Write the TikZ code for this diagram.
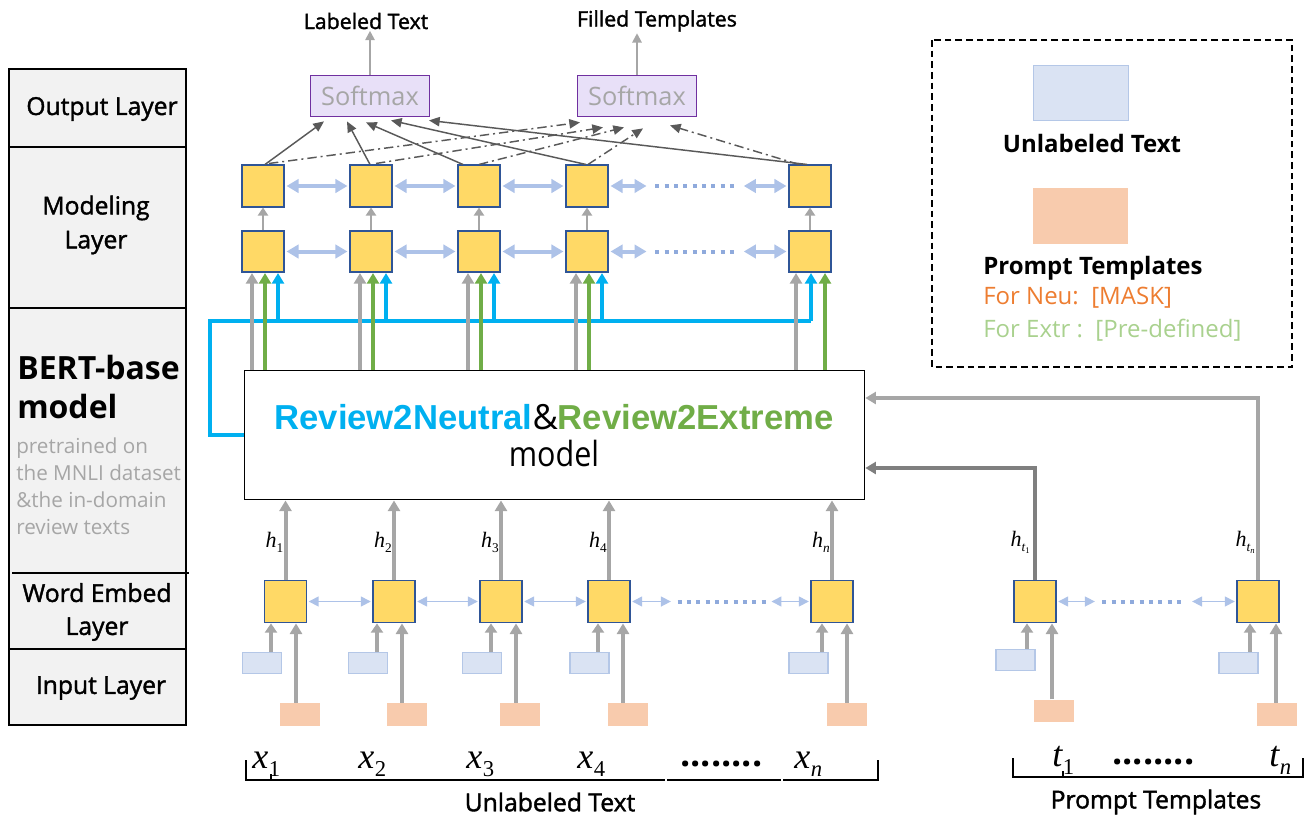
\documentclass[tikz,border=0pt]{standalone}
\usepackage{fontspec}
\setmainfont{Open Sans}
\newfontfamily\medfont{Open Sans}[FakeBold=1.6]
\newfontfamily\arialfont{Liberation Sans}
\newfontfamily\timesfont{Liberation Serif}
\usetikzlibrary{arrows.meta,calc}

\definecolor{panelgray}{HTML}{F2F2F2}
\definecolor{cellfill}{HTML}{FFD966}
\definecolor{cellline}{HTML}{2F5597}
\definecolor{linkblue}{HTML}{ADC2E8}
\definecolor{dotblue}{HTML}{8FAADC}
\definecolor{arrgray}{HTML}{A6A6A6}
\definecolor{darkarr}{HTML}{7F7F7F}
\definecolor{outgray}{HTML}{595959}
\definecolor{neutralblue}{HTML}{00B0F0}
\definecolor{extremegreen}{HTML}{70AD47}
\definecolor{softfill}{HTML}{E8E0F8}
\definecolor{softline}{HTML}{7030A0}
\definecolor{textfill}{HTML}{DAE3F3}
\definecolor{textline}{HTML}{B4C7E7}
\definecolor{promptfill}{HTML}{F8CBAD}
\definecolor{neuorange}{HTML}{ED7D31}
\definecolor{extrgreen}{HTML}{A9D18E}
\definecolor{notegray}{HTML}{A6A6A6}

% italic symbol with a lowered subscript
\newcommand\symsub[2]{{\timesfont\itshape #1}\kern0.5pt\raisebox{-6pt}{\fontsize{17}{17}\selectfont\timesfont #2}}
\newcommand\hsub[1]{{\timesfont\itshape h}\raisebox{-3.5pt}{\fontsize{10}{10}\selectfont\timesfont #1}}
\newcommand\tsub[1]{{\itshape t}\raisebox{-2pt}{\fontsize{6.5}{6.5}\selectfont\upshape #1}}

\begin{document}
\begin{tikzpicture}[x=0.75pt,y=-0.75pt,
  cell/.style={draw=cellline, fill=cellfill, line width=1.3pt, minimum width=31pt, minimum height=31pt, inner sep=0pt},
  utext/.style={draw=textline, fill=textfill, line width=1.1pt, minimum width=29pt, minimum height=15.5pt, inner sep=0pt},
  ptext/.style={fill=promptfill, minimum width=30pt, minimum height=17pt, inner sep=0pt},
  softbox/.style={draw=softline, fill=softfill, line width=1.1pt, minimum width=89pt, minimum height=31pt, inner sep=0pt, text=notegray, font=\fontsize{19}{22}\selectfont},
  layerlbl/.style={font=\medfont\fontsize{18.5}{25}\selectfont, inner sep=0pt, align=center},
  toplbl/.style={font=\medfont\fontsize{16}{19}\selectfont, inner sep=1pt},
  legbold/.style={font=\fontsize{18}{21}\selectfont\bfseries, inner sep=0pt},
  legplain/.style={font=\fontsize{18}{21}\selectfont, inner sep=0pt},
  botlbl/.style={font=\medfont\fontsize{18.5}{21}\selectfont, inner sep=0pt},
  symlbl/.style={font=\fontsize{27}{30}\selectfont, inner sep=0pt, anchor=base west},
  hlbl/.style={font=\fontsize{16.5}{18}\selectfont, inner sep=0pt, anchor=east},
  grayup/.style={draw=arrgray, line width=3pt, -{Triangle[length=8pt,width=9pt]}},
  darkup/.style={draw=darkarr, line width=3pt, -{Triangle[length=8pt,width=9pt]}},
  greenup/.style={draw=extremegreen, line width=3pt, -{Triangle[length=8pt,width=9pt]}},
  blueup/.style={draw=neutralblue, line width=3pt, -{Triangle[length=8pt,width=9pt]}},
  bluebus/.style={draw=neutralblue, line width=3pt},
  smallup/.style={draw=arrgray, line width=3pt, -{Triangle[length=7pt,width=9pt]}},
  tinyup/.style={draw=arrgray, line width=1.5pt, -{Triangle[length=6pt,width=7.5pt]}},
  thinarr/.style={draw=arrgray, line width=1.5pt, -{Triangle[length=7pt,width=7pt]}},
  thicklink/.style={draw=linkblue, line width=3pt, {Triangle[length=9pt,width=10pt]}-{Triangle[length=9pt,width=10pt]}, shorten <=1.5pt, shorten >=1.5pt},
  thinlink/.style={draw=linkblue, line width=1.1pt, {Triangle[length=7.5pt,width=7.5pt]}-{Triangle[length=7.5pt,width=7.5pt]}, shorten <=1pt, shorten >=1pt},
  dotrun/.style={draw=dotblue, line width=3pt, dash pattern=on 3pt off 4pt},
  outsolid/.style={draw=outgray, line width=1.1pt, -{Triangle[length=8pt,width=7pt]}},
  outdash/.style={outsolid, dash pattern=on 7pt off 3pt on 1.5pt off 3pt},
  bracket/.style={draw=black, line width=1.1pt}
]
\useasboundingbox (0,0) rectangle (1313,818);

% ---------- layer names on the left ----------
\filldraw[fill=panelgray, draw=black, line width=1.2pt] (9,69) rectangle (186,725);
\draw[line width=1.2pt] (9,147) -- (186,147) (9,308) -- (186,308) (12,573) -- (189,573) (9,649) -- (186,649);
\node[layerlbl] (lOut) at (102,109) {Output Layer};
\node[layerlbl, font=\medfont\fontsize{18.5}{25.5}\selectfont] (lMod) at (96,225) {Modeling\\Layer};
\node[anchor=west, inner sep=0pt, align=left, font=\fontsize{24}{29}\selectfont\bfseries] (lBert) at (17,387) {BERT-base\\model};
\node[anchor=west, inner sep=0pt, align=left, text=notegray, font=\fontsize{15.5}{20.25}\selectfont] (lNote) at (16,486) {pretrained on\\the MNLI dataset\\\&the in-domain\\review texts};
\node[layerlbl, font=\medfont\fontsize{18.5}{24.75}\selectfont] (lWord) at (97,612) {Word Embed\\Layer};
\node[layerlbl] (lIn) at (101,688) {Input Layer};

% ---------- output layer ----------
\node[softbox] (s1) at (370,96) {Softmax};
\node[softbox] (s2) at (637,96) {Softmax};
\node[toplbl] (o1) at (366,21) {Labeled Text};
\node[toplbl] (o2) at (657,21) {Filled Templates};
\draw[thinarr] (s1.north) -- (s1.north |- o1.south);
\draw[thinarr] (s2.north) -- (s2.north |- o2.south);

% ---------- modeling layer ----------
\foreach \i/\x in {1/263,2/371,3/479,4/587,5/810}{
  \node[cell] (t\i) at (\x,186) {};
  \node[cell] (b\i) at (\x,251.5) {};
  \draw[tinyup] (b\i.north) -- (t\i.south);
}
\foreach \r in {t,b}{
  \foreach \i/\j in {1/2,2/3,3/4}{
    \draw[thicklink] (\r\i.east) -- (\r\j.west);
  }
  \draw[thicklink] (\r4.east) -- ([xshift=30pt]\r4.east);
  \draw[dotrun] ([xshift=35pt]\r4.east) -- ([xshift=97pt]\r4.east);
  \draw[thicklink] ([xshift=-35pt]\r5.west) -- (\r5.west);
}

% modeling states feed both softmax heads
\draw[outsolid] ($(t1.north)+(2,0)$) -- ($(s1.south)+(-46,4)$);
\draw[outsolid] ($(t2.north)+(-1,0)$) -- ($(s1.south)+(-23,4)$);
\draw[outsolid] ($(t3.north)+(-16,0)$) -- ($(s1.south)+(-4,5)$);
\draw[outsolid] ($(t4.north)+(-1,0)$) -- ($(s1.south)+(21,3)$);
\draw[outsolid] ($(t5.north)+(-3,0)$) -- ($(s1.south)+(59,3)$);
\draw[outdash] ($(t1.north)+(6,-1)$) -- ($(s2.south)+(-57,5)$);
\draw[outdash] ($(t2.north)+(5,-1)$) -- ($(s2.south)+(-34,10)$);
\draw[outdash] ($(t3.north)+(0,0)$) -- ($(s2.south)+(-13,10)$);
\draw[outdash] ($(t4.north)+(1,0)$) -- ($(s2.south)+(6,11)$);
\draw[outdash] ($(t5.north)+(-11,0)$) -- ($(s2.south)+(33,8)$);

% ---------- BERT-base block ----------
\node[draw=black, line width=1.2pt, minimum width=465pt, minimum height=97pt, inner sep=0pt] (bert) at (554.5,435) {};
\node[inner sep=0pt, font=\fontsize{26}{30}\selectfont] (btitle) at (554,417)
  {{\arialfont\bfseries\color{neutralblue}Review2Neutral}\&{\arialfont\bfseries\color{extremegreen}Review2Extreme}};
\node[inner sep=0pt, font=\fontsize{26}{30}\selectfont] (bmodel) at (554,453) {\scalebox{0.88}[1]{model}};

% representations fed into the modeling layer
\coordinate (bus) at (210,321);
\coordinate (busend) at ($(b5.south)+(1,0)$);
\draw[bluebus] (bert.west) -| (bus) -- (busend |- bus);
\foreach \i/\dg/\dgr/\db in {1/-11/2/15,2/-11/2/15,3/-11/2/15,4/-11/2/15,5/-14/15/1}{
  \coordinate (ga) at ($(b\i.south)+(\dg,0)$);
  \coordinate (gr) at ($(b\i.south)+(\dgr,0)$);
  \coordinate (bl) at ($(b\i.south)+(\db,0)$);
  \draw[grayup] (ga |- bert.north) -- (ga);
  \draw[greenup] (gr |- bert.north) -- (gr);
  \draw[blueup] (bl |- bus) -- (bl);
}

% ---------- word embedding layer ----------
\foreach \i/\x in {1/285.5,2/394,3/501,4/609,5/832,6/1035,7/1258}{
  \node[cell, minimum height=31.5pt, minimum width=31.5pt] (e\i) at (\x,601.5) {};
}
\foreach \i/\j in {1/2,2/3,3/4}{
  \draw[thinlink] (e\i.east) -- (e\j.west);
}
\draw[thinlink] (e4.east) -- ([xshift=31pt]e4.east);
\draw[dotrun] ([xshift=35pt]e4.east) -- ([xshift=101pt]e4.east);
\draw[thinlink] ([xshift=-30pt]e5.west) -- (e5.west);
\draw[thinlink] (e6.east) -- ([xshift=29.5pt]e6.east);
\draw[dotrun] ([xshift=34pt]e6.east) -- ([xshift=96pt]e6.east);
\draw[thinlink] ([xshift=-34pt]e7.west) -- (e7.west);

\foreach \i in {1,...,5}{
  \draw[grayup] (e\i.north) -- (e\i.north |- bert.south);
}
\draw[darkup] (e6.north) |- ([yshift=-24.75pt]bert.east);
\draw[grayup] (e7.north) |- ([yshift=27.75pt]bert.east);

\node[hlbl] (h1) at ($(e1.north)+(-2,-37)$) {\hsub{1}};
\node[hlbl] (h2) at ($(e2.north)+(-2,-37)$) {\hsub{2}};
\node[hlbl] (h3) at ($(e3.north)+(-2,-37)$) {\hsub{3}};
\node[hlbl] (h4) at ($(e4.north)+(-2,-37)$) {\hsub{4}};
\node[hlbl] (h5) at ($(e5.north)+(-2,-37)$) {\hsub{\itshape n}};
\node[hlbl] (h6) at ($(e6.north)+(-5,-37)$) {\hsub{\tsub{1}}};
\node[hlbl] (h7) at ($(e7.north)+(-3,-37)$) {\hsub{\tsub{\itshape n}}};

% ---------- input layer ----------
\foreach \i/\ux/\ka/\px/\kb/\uy/\py in {1/262/271/300/296/663/714.5,2/368/377/407/402/663/714.5,3/482/491/520/516/663/714.5,4/589.5/598/628/623/663/714.5,5/808.5/822/846.5/847/663/714.5,6/1015.5/1027/1053.5/1052/660/711,7/1238.5/1250/1277/1276/663/714.5}{
  \node[utext] (u\i) at (\ux,\uy) {};
  \node[ptext] (p\i) at (\px,\py) {};
  \coordinate (ka) at (\ka,0);
  \coordinate (kb) at (\kb,0);
  \draw[smallup] (ka |- u\i.north) -- (ka |- e\i.south);
  \draw[grayup] (kb |- p\i.north) -- (kb |- e\i.south);
}

% ---------- token sequences ----------
\draw[bracket] (246,760) -- (246,780) -- (665,780);
\draw[bracket] (667,780) -- (781,780);
\draw[bracket] (783,780) -- (878,780) -- (878,760);
\draw[bracket] (271,774) -- (271,780);
\draw[bracket] (1013,758) -- (1013,777) -- (1303,777) -- (1303,758);
\draw[bracket] (1063,771) -- (1063,777);

\node[symlbl] (x1) at (252,768) {\symsub{x}{1}};
\node[symlbl] (x2) at (358,768) {\symsub{x}{2}};
\node[symlbl] (x3) at (466,768) {\symsub{x}{3}};
\node[symlbl] (x4) at (577,768) {\symsub{x}{4}};
\node[symlbl, font=\fontsize{27}{30}\selectfont\bfseries] (xdots) at (680,766) {........};
\node[symlbl] (xn) at (794,768) {\symsub{x}{\itshape n}};
\node[symlbl] (t1) at (1052,766) {\symsub{t}{1}};
\node[symlbl, font=\fontsize{27}{30}\selectfont\bfseries] (tdots) at (1112,764) {........};
\node[symlbl] (tn) at (1269,766) {\symsub{t}{\itshape n}};

\node[botlbl] (seqU) at (550,802) {Unlabeled Text};
\node[botlbl] (seqP) at (1156,802) {Prompt Templates};

% ---------- legend ----------
\draw[draw=black, line width=1.1pt, dash pattern=on 5pt off 3pt] (932,40) rectangle (1292,367);
\node[utext, minimum width=71pt, minimum height=41pt] (lgU) at (1081,93) {};
\node[legbold] (lgUt) at (1092,143) {Unlabeled Text};
\node[ptext, minimum width=71pt, minimum height=42pt] (lgP) at (1080.5,216) {};
\node[legbold, anchor=west] (lgPt) at (983,268) {Prompt Templates};
\node[legplain, anchor=west, text=neuorange] (lgN) at (983,298) {For Neu:\ \ [MASK]};
\node[legplain, anchor=west, text=extrgreen] (lgE) at (983,330) {For Extr :\ \ [Pre-defined]};
\end{tikzpicture}
\end{document}
